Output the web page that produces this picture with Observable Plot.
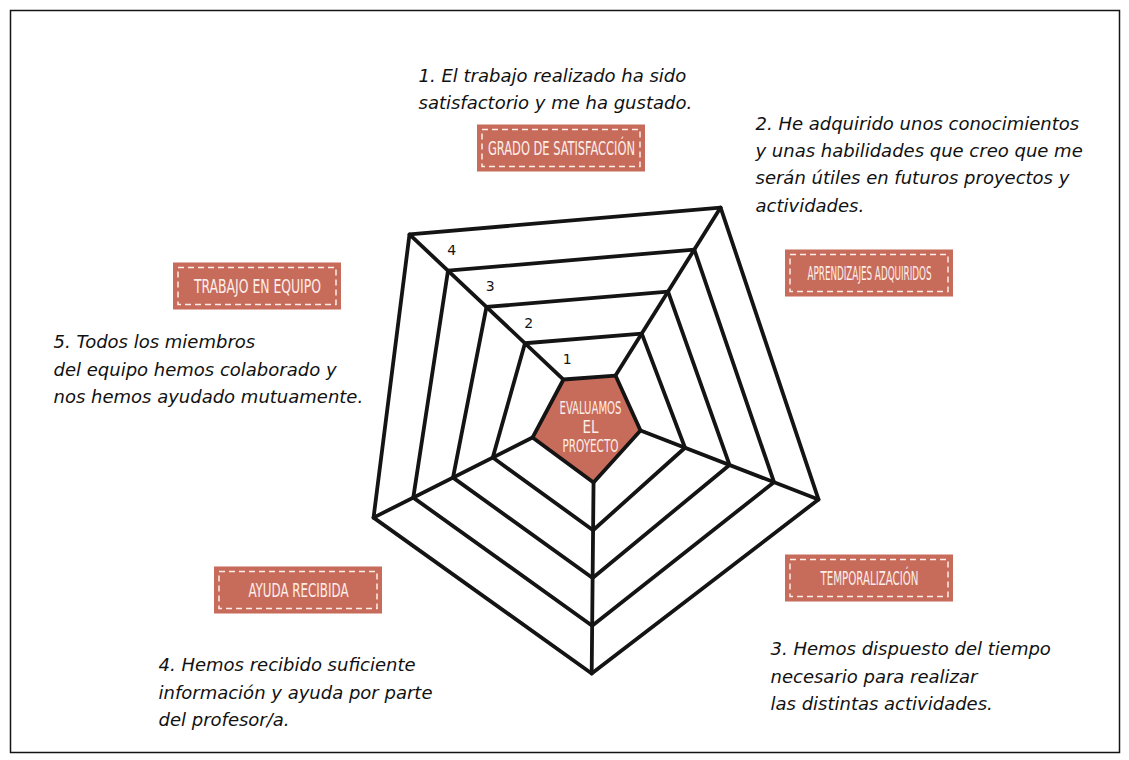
<!DOCTYPE html>
<html><head><meta charset="utf-8">
<script src="https://cdn.jsdelivr.net/npm/d3@7"></script>
<script src="https://cdn.jsdelivr.net/npm/@observablehq/plot@0.6"></script>
<style>body{margin:0;background:#fff;}</style>
</head><body><div id="chart"></div>
<script>
// ---- data ----
const axisNames = ["GRADO DE SATISFACCIÓN", "APRENDIZAJES ADQUIRIDOS", "TEMPORALIZACIÓN", "AYUDA RECIBIDA", "TRABAJO EN EQUIPO"];
const axisDescriptions = [
  "1. El trabajo realizado ha sido\nsatisfactorio y me ha gustado.",
  "2. He adquirido unos conocimientos\ny unas habilidades que creo que me\nserán útiles en futuros proyectos y\nactividades.",
  "3. Hemos dispuesto del tiempo\nnecesario para realizar\nlas distintas actividades.",
  "4. Hemos recibido suficiente\ninformación y ayuda por parte\ndel profesor/a.",
  "5. Todos los miembros\ndel equipo hemos colaborado y\nnos hemos ayudado mutuamente."
];
const levels = [0, 1, 2, 3, 4];
const levelLabels = ["1", "2", "3", "4"];
const centerLines = ["EVALUAMOS", "EL", "PROYECTO"];

// ---- layout (hand-drawn, slightly irregular pentagon) ----
const W = 1129, H = 760, cx = 589, cy = 421;
const innerPolar = [[121.8, 49.4], [60.5, 52.8], [-10.0, 51.8], [-86.2, 61.1], [-164.3, 59.2]];
const outerPolar = [[133.9, 259.6], [58.5, 250.9], [-18.8, 241.9], [-89.5, 252.0], [-156.0, 236.4]];
const tagCenters = [[561, 148], [869, 273], [869, 578], [298, 590], [257, 286]];
const tagTextWidths = [147, 124, 98, 100, 127];
const centerTextWidths = [62, 16, 56];
const descAnchors = [[418, 86], [755, 161.5], [770, 673.5], [158, 689.5], [53, 366.5]];
const TAG_W = 168, TAG_H = 47;
const INK = "#141414", TERRA = "#c76b5b", PALE = "#fdeee9";

function polar([a, r]) { const t = a * Math.PI / 180; return [cx + r * Math.cos(t), cy - r * Math.sin(t)]; }
function vertex(i, L) {
  const p = polar(innerPolar[i]), q = polar(outerPolar[i]), f = L / 4;
  return {axis: axisNames[i], level: L, x: p[0] + (q[0] - p[0]) * f, y: p[1] + (q[1] - p[1]) * f};
}
const ringPts = levels.flatMap(L => axisNames.map((_, i) => vertex(i, L)));
const spokes = axisNames.map((_, i) => ({a: vertex(i, 0), b: vertex(i, 4)}));
const numberPts = levelLabels.map((t, k) => { const v = vertex(0, k + 0.5); return {text: t, x: v.x, y: v.y}; });
const tags = axisNames.map((n, i) => ({name: n, x: tagCenters[i][0], y: tagCenters[i][1]}));
const descs = axisDescriptions.map((d, i) => ({text: d, x: descAnchors[i][0], y: descAnchors[i][1]}));
const centerText = centerLines.map((t, k) => ({text: t, x: cx + 1, y: cy - 13 + k * 19}));

const handFont = "'DejaVu Sans', Verdana, sans-serif";
const narrowFont = "'Liberation Sans Narrow', 'DejaVu Sans Condensed', 'Roboto', sans-serif";

const chart = Plot.plot({
  width: W, height: H,
  marginTop: 10, marginLeft: 10, marginRight: 10, marginBottom: 8,
  x: {domain: [0, W], range: [0, W], axis: null},
  y: {domain: [0, H], range: [0, H], axis: null},
  style: {background: "#fff"},
  marks: [
    Plot.frame({stroke: INK, strokeWidth: 1.5}),
    Plot.link(spokes, {x1: d => d.a.x, y1: d => d.a.y, x2: d => d.b.x, y2: d => d.b.y, stroke: INK, strokeWidth: 3.8, strokeLinecap: "round"}),
    Plot.line(ringPts.filter(d => d.level > 0), {x: "x", y: "y", z: "level", curve: "linear-closed", stroke: INK, strokeWidth: 3.8}),
    Plot.line(ringPts.filter(d => d.level === 0), {x: "x", y: "y", curve: "linear-closed", fill: TERRA, stroke: INK, strokeWidth: 3.8}),
    Plot.text(centerText, {x: "x", y: "y", text: "text", fill: PALE, fontSize: 18, fontFamily: narrowFont}),
    Plot.text(numberPts, {x: "x", y: "y", text: "text", dx: 23, dy: -2, fill: INK, fontSize: 14, fontFamily: handFont}),
    Plot.rect(tags, {x1: d => d.x - TAG_W / 2, x2: d => d.x + TAG_W / 2, y1: d => d.y - TAG_H / 2, y2: d => d.y + TAG_H / 2, fill: TERRA}),
    Plot.rect(tags, {x1: d => d.x - TAG_W / 2 + 5, x2: d => d.x + TAG_W / 2 - 5, y1: d => d.y - TAG_H / 2 + 5, y2: d => d.y + TAG_H / 2 - 5, fill: "none", stroke: PALE, strokeWidth: 1.5, strokeDasharray: "6,4"}),
    Plot.text(tags, {x: "x", y: "y", text: "name", fill: PALE, fontSize: 19, fontFamily: narrowFont}),
    Plot.text(descs, {x: "x", y: "y", text: "text", textAnchor: "start", fill: "#111", fontSize: 18, fontStyle: "italic", fontFamily: handFont, lineHeight: 1.52})
  ]
});
document.getElementById("chart").appendChild(chart);

// squeeze hand-lettered captions to their drawn widths
d3.select(chart).selectAll("text").each(function () {
  const t = this.textContent;
  let i = axisNames.indexOf(t);
  if (i >= 0) { d3.select(this).attr("textLength", tagTextWidths[i]).attr("lengthAdjust", "spacingAndGlyphs"); return; }
  i = centerLines.indexOf(t);
  if (i >= 0) d3.select(this).attr("textLength", centerTextWidths[i]).attr("lengthAdjust", "spacingAndGlyphs");
});
</script>
</body></html>
